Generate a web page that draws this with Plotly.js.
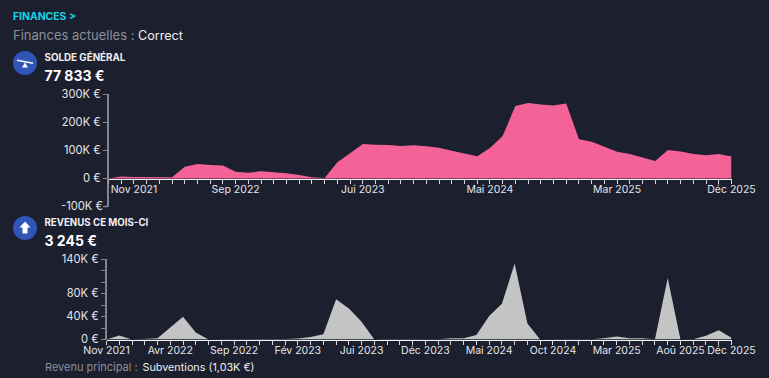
<!DOCTYPE html>
<html>
<head>
<meta charset="utf-8">
<script src="https://cdn.plot.ly/plotly-3.0.1.min.js"></script>
<style>
html,body{margin:0;padding:0;background:#1b1f2e;overflow:hidden}
#c{width:769px;height:378px;position:absolute;left:0;top:0}
svg.icon{position:absolute;left:0;top:0;z-index:5;pointer-events:none}
.t{position:absolute;z-index:6;white-space:pre;transform:translateY(-50%);font-family:Inter,sans-serif;line-height:1.2}
</style>
</head>
<body>
<div id="c"></div>
<svg class="icon" width="769" height="378">
<circle cx="25" cy="63" r="12" fill="#2f55b6"/>
<path d="M17 59.5L33 62.5L33 64L17 61Z M25 62.5L28 67.5L22 67.5Z" fill="#fff"/>
<circle cx="25" cy="228" r="12" fill="#2f55b6"/>
<path d="M25 221.5L30.5 227.5L27.5 227.5L27.5 233.5L22.5 233.5L22.5 227.5L19.5 227.5Z" fill="#fff"/>
<path d="M107.75 178.5V207M103.5 206.5H107.75" fill="none" stroke="#82858f" stroke-width="1.5"/>
</svg>
<script>
var monthIndex = [0,1,2,3,4,5,6,7,8,9,10,11,12,13,14,15,16,17,18,19,20,21,22,23,24,25,26,27,28,29,30,31,32,33,34,35,36,37,38,39,40,41,42,43,44,45,46,47,48,49];
var soldeValues = [0,7000,5000,4000,4000,4000,41000,51000,48000,46000,24000,20000,25000,22000,18000,12000,4000,1000,57000,89000,122000,120000,119000,115000,118000,114000,109000,98000,89000,79000,108000,151000,257000,268000,263000,259000,266000,139000,130000,113000,95000,87000,75000,62000,101000,96000,87000,82000,87000,77833];
var revenusValues = [0,7000,0,500,2000,21000,39500,12000,0,300,500,1700,1000,1000,1000,1700,4500,9000,70000,54000,31000,0,1000,1000,1000,500,500,2000,2000,8000,41000,62000,132000,28000,0,500,500,500,500,2000,5000,2000,2000,500,107000,0,500,6500,16000,3245];
var soldeTickIndex = [2,10,20,30,40,49];
var soldeTickText = ['Nov 2021','Sep 2022','Jui 2023','Mai 2024','Mar 2025','Déc 2025'];
var revenusTickIndex = [0,5,10,15,20,25,30,35,40,45,49];
var revenusTickText = ['Nov 2021','Avr 2022','Sep 2022','Fév 2023','Jui 2023','Déc 2023','Mai 2024','Oct 2024','Mar 2025','Aoû 2025','Déc 2025'];
var soldeYVals = [-100000,0,100000,200000,300000];
var soldeYText = ['','0 €','100K €','200K €','300K €'];
var revenusYVals = [0,20000,40000,60000,80000,100000,120000,140000];
var revenusYText = ['0 €','','40K €','','80K €','','','140K €'];

var W = 769, H = 378, FONT = 'Inter, sans-serif';
var BG = '#1b1f2e', TXT = '#e4e5e9', GREY = '#8d8f98', AXIS = '#82858f';
function px(x){return x/W;}
function py(y){return 1-y/H;}
function allTicks(idx, text){
  return monthIndex.map(function(i){var k=idx.indexOf(i);return k>=0?text[k]:'';});
}
function xAxis(left, yPos, idx, text){
  return {domain:[px(left),px(731.5)],range:[0,49],anchor:'free',position:py(yPos),
    tickmode:'array',tickvals:monthIndex,ticktext:allTicks(idx,text),ticks:'outside',ticklen:4,tickwidth:1,tickcolor:'#d8d9dd',
    showline:true,linecolor:'#f2f2f4',linewidth:1,showgrid:false,zeroline:false,tickangle:0,ticklabelstandoff:-3,
    tickfont:{family:FONT,size:10.5,color:TXT},fixedrange:true};
}
function yAxis(top,bottom,range,vals,text,anchor){
  return {domain:[py(bottom),py(top)],range:range,anchor:anchor,tickmode:'array',tickvals:vals,ticktext:text,
    ticks:'outside',ticklen:4,tickwidth:1,tickcolor:AXIS,showline:true,linecolor:AXIS,linewidth:1.5,showgrid:false,zeroline:false,
    tickfont:{family:FONT,size:11.2,color:TXT},fixedrange:true};
}
function label(x,y,text,size,color,bold){
  var d=document.createElement('div');
  d.className='t';
  d.textContent=text;
  d.style.left=x+'px';d.style.top=y+'px';d.style.fontSize=size+'px';d.style.color=color;
  d.style.fontWeight=bold?'700':'400';
  document.body.appendChild(d);
}
label(13,16.5,'FINANCES >',10.4,'#19d3e6',true);
label(13,36,'Finances actuelles :',13,GREY);
label(138,36,'Correct',12.6,'#eeeef0');
label(44.5,58,'SOLDE GÉNÉRAL',9.8,'#f0f0f2',true);
label(44.5,75.5,'77 833 €',14,'#ffffff',true);
label(44.5,222.5,'REVENUS CE MOIS-CI',9.7,'#f0f0f2',true);
label(44.5,240.5,'3 245 €',14,'#ffffff',true);
label(45,368,'Revenu principal :',11,GREY);
label(142.5,368,'Subventions (1,03K €)',10.8,'#eeeef0');
label(61,207,'-100K €',11.2,TXT);

var traces = [
  {x:monthIndex,y:soldeValues,type:'scatter',mode:'lines',fill:'tozeroy',fillcolor:'#f46397',line:{color:'#f46397',width:0},xaxis:'x',yaxis:'y',hoverinfo:'skip'},
  {x:monthIndex,y:revenusValues,type:'scatter',mode:'lines',fill:'tozeroy',fillcolor:'#c4c4c4',line:{color:'#c4c4c4',width:0},xaxis:'x2',yaxis:'y2',hoverinfo:'skip'}
];
var layout = {
  width:W,height:H,margin:{l:0,r:0,t:0,b:0,pad:0},paper_bgcolor:BG,plot_bgcolor:BG,showlegend:false,
  xaxis:xAxis(108.5,178.5,soldeTickIndex,soldeTickText),
  yaxis:yAxis(94,206.5,[-100000,300000],soldeYVals,soldeYText,'x'),
  xaxis2:xAxis(106.5,339.5,revenusTickIndex,revenusTickText),
  yaxis2:yAxis(259,339.5,[0,140000],revenusYVals,revenusYText,'x2')
};
Plotly.newPlot('c',traces,layout,{displayModeBar:false,staticPlot:true});
</script>
</body>
</html>
